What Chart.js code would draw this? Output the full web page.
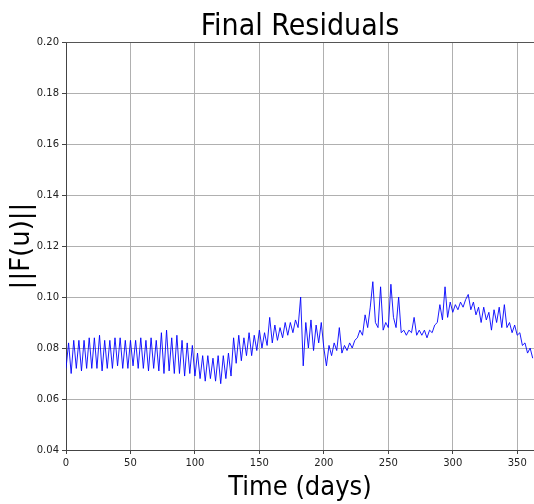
<!DOCTYPE html>
<html>
<head>
<meta charset="utf-8">
<script src="https://cdn.jsdelivr.net/npm/chart.js@4/dist/chart.umd.min.js"></script>
<style>
  html, body { margin: 0; padding: 0; background: #fff; }
  #wrap { width: 534px; height: 504px; }
</style>
</head>
<body>
<div id="wrap"><canvas id="resChart" width="534" height="504"></canvas></div>
<script>
// ================= DATA =================
// one sample every 2 days
const stepDays = 2;
const residuals = [
  0.072, 0.082, 0.070, 0.083, 0.072, 0.083, 0.071, 0.083, 0.072, 0.084,
  0.072, 0.084, 0.072, 0.085, 0.071, 0.083, 0.072, 0.083, 0.072, 0.084,
  0.073, 0.084, 0.072, 0.083, 0.072, 0.083, 0.073, 0.083, 0.072, 0.084,
  0.072, 0.083, 0.071, 0.084, 0.072, 0.083, 0.071, 0.086, 0.070, 0.087,
  0.071, 0.084, 0.070, 0.085, 0.070, 0.083, 0.069, 0.082, 0.070, 0.081,
  0.069, 0.078, 0.068, 0.077, 0.067, 0.077, 0.068, 0.076, 0.067, 0.077,
  0.066, 0.077, 0.068, 0.078, 0.069, 0.084, 0.074, 0.085, 0.075, 0.084,
  0.077, 0.086, 0.077, 0.085, 0.079, 0.087, 0.080, 0.086, 0.081, 0.092,
  0.082, 0.089, 0.083, 0.088, 0.084, 0.090, 0.085, 0.090, 0.086, 0.091,
  0.088, 0.100, 0.073, 0.090, 0.080, 0.091, 0.079, 0.089, 0.082, 0.090,
  0.080, 0.073, 0.081, 0.077, 0.082, 0.079, 0.088, 0.078, 0.081, 0.079,
  0.082, 0.080, 0.083, 0.084, 0.087, 0.085, 0.093, 0.088, 0.096, 0.106,
  0.090, 0.088, 0.104, 0.087, 0.090, 0.088, 0.105, 0.092, 0.088, 0.100,
  0.086, 0.087, 0.085, 0.087, 0.086, 0.092, 0.085, 0.087, 0.085, 0.087,
  0.084, 0.087, 0.086, 0.089, 0.090, 0.097, 0.091, 0.104, 0.092, 0.098,
  0.094, 0.097, 0.095, 0.098, 0.096, 0.099, 0.101, 0.095, 0.098, 0.093,
  0.096, 0.090, 0.096, 0.091, 0.094, 0.087, 0.095, 0.090, 0.096, 0.088,
  0.097, 0.088, 0.090, 0.086, 0.089, 0.085, 0.086, 0.081, 0.082, 0.078,
  0.080, 0.076
];
const xTicks = [0, 50, 100, 150, 200, 250, 300, 350];
const yTicks = [0.04, 0.06, 0.08, 0.10, 0.12, 0.14, 0.16, 0.18, 0.20];

const points = residuals.map((v, i) => ({ x: i * stepDays, y: v }));

// ================= TITLE + TOP SPINE =================
// title is centred on the plot area, not on the canvas
const framePlugin = {
  id: 'framePlugin',
  afterDatasetsDraw(chart) {
    const { ctx, chartArea: a } = chart;
    ctx.save();
    ctx.strokeStyle = '#555';
    ctx.lineWidth = 1;
    ctx.beginPath();
    ctx.moveTo(a.left, a.top + 0.5);
    ctx.lineTo(a.right, a.top + 0.5);
    ctx.stroke();

    ctx.fillStyle = '#000';
    ctx.font = '30px "DejaVu Sans Condensed", "DejaVu Sans"';
    ctx.textAlign = 'center';
    ctx.textBaseline = 'alphabetic';
    ctx.fillText('Final Residuals', (a.left + a.right) / 2, 35);
    ctx.restore();
  }
};

// ================= CHART =================
const font = 'DejaVu Sans';
const condensed = '"DejaVu Sans Condensed", "DejaVu Sans"';

new Chart(document.getElementById('resChart'), {
  type: 'line',
  data: {
    datasets: [{
      data: points,
      borderColor: '#0000ff',
      borderWidth: 0.9,
      pointRadius: 0,
      tension: 0,
      fill: false
    }]
  },
  options: {
    responsive: false,
    animation: false,
    layout: { padding: { left: 0, right: 0, top: 42, bottom: 0 } },
    plugins: {
      legend: { display: false },
      tooltip: { enabled: false },
      title: { display: false }
    },
    scales: {
      x: {
        type: 'linear',
        min: 0,
        max: 363,
        afterFit: s => { s.height = 54; },
        afterBuildTicks: s => { s.ticks = xTicks.map(v => ({ value: v })); },
        ticks: {
          includeBounds: false,
          color: '#222',
          padding: 3,
          maxRotation: 0,
          font: { family: font, size: 10 }
        },
        grid: { color: '#b0b0b0', lineWidth: 1, tickLength: 4, tickColor: '#444' },
        border: { color: '#444', width: 1 },
        title: {
          display: true,
          text: 'Time (days)',
          color: '#000',
          font: { family: condensed, size: 27, lineHeight: 1 },
          padding: { top: 0, bottom: 3 }
        }
      },
      y: {
        min: 0.04,
        max: 0.20,
        afterFit: s => { s.width = 66; },
        afterBuildTicks: s => { s.ticks = yTicks.map(v => ({ value: v })); },
        ticks: {
          color: '#222',
          padding: 3,
          font: { family: font, size: 10 },
          callback: v => v.toFixed(2)
        },
        grid: { color: '#b0b0b0', lineWidth: 1, tickLength: 4, tickColor: '#444' },
        border: { color: '#444', width: 1 },
        title: {
          display: true,
          text: '||F(u)||',
          color: '#000',
          font: { family: font, size: 26, lineHeight: 1 },
          padding: { top: 9, bottom: 0 }
        }
      }
    }
  },
  plugins: [framePlugin]
});
</script>
</body>
</html>
